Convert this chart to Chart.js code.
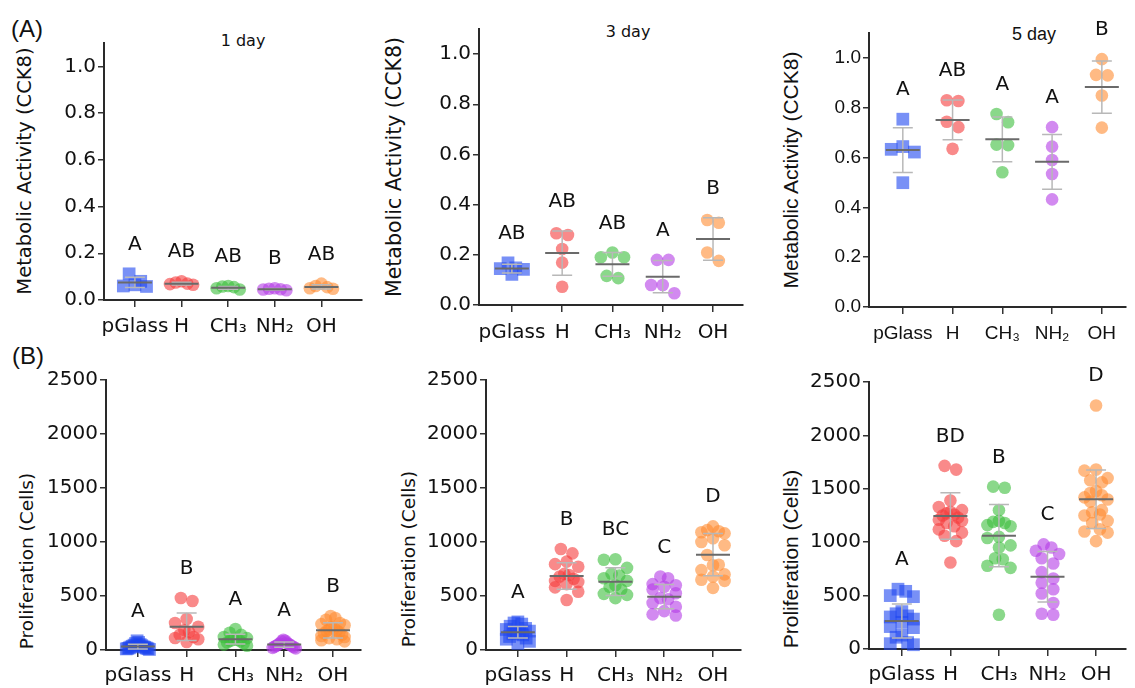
<!DOCTYPE html>
<html>
<head>
<meta charset="utf-8">
<script src="https://cdn.jsdelivr.net/npm/chart.js@4.4.1/dist/chart.umd.min.js"></script>
<style>
body { margin: 0; background: #fff; width: 1135px; height: 688px; overflow: hidden; position: relative; color: #111; font-family: "DejaVu Sans", sans-serif; }
canvas { position: absolute; }
.lbl { position: absolute; white-space: nowrap; line-height: 1; }
.ttl { position: absolute; white-space: nowrap; line-height: 1; transform: translateX(-50%); }
.ytitle { position: absolute; white-space: nowrap; line-height: 1; transform: translate(-50%, -50%) rotate(-90deg); }
</style>
</head>
<body>
<div class="lbl" style="left:11px;top:15px;font:24px 'Liberation Sans'">(A)</div>
<div class="lbl" style="left:12px;top:342px;font:24px 'Liberation Sans'">(B)</div>

<div class="ttl" style="left:243px;top:33px;font-size:16px">1 day</div>
<div class="ttl" style="left:628px;top:24px;font-size:16px">3 day</div>
<div class="ttl" style="left:1034px;top:24px;font:18px 'Liberation Sans'">5 day</div>

<div class="ytitle" style="left:25px;top:171px;font-size:19.5px">Metabolic Activity (CCK8)</div>
<div class="ytitle" style="left:394px;top:167px;font-size:20.5px">Metabolic Activity (CCK8)</div>
<div class="ytitle" style="left:791px;top:170px;font:21px 'Liberation Sans'">Metabolic Activity (CCK8)</div>
<div class="ytitle" style="left:27px;top:561px;font-size:18.5px">Proliferation (Cells)</div>
<div class="ytitle" style="left:409px;top:559px;font-size:18.5px">Proliferation (Cells)</div>
<div class="ytitle" style="left:791px;top:559px;font:21px 'Liberation Sans'">Proliferation (Cells)</div>

<script>
// categories and tick labels
const groups = ['pGlass', 'H', 'CH₃', 'NH₂', 'OH'];
const cck8Ticks = [0, 0.2, 0.4, 0.6, 0.8, 1.0];
const cellTicks = [0, 500, 1000, 1500, 2000, 2500];

// (A) metabolic activity, one list of replicates per group
const cck8Day1 = [
    [0.112, 0.08, 0.065, 0.06, 0.058],
    [0.08, 0.075, 0.07, 0.068, 0.065],
    [0.06, 0.058, 0.055, 0.05, 0.045],
    [0.05, 0.048, 0.046, 0.045, 0.042],
    [0.07, 0.06, 0.055, 0.05, 0.048]
];
const cck8Day1Mean = [0.075, 0.07, 0.052, 0.046, 0.056];
const cck8Day1Sd = [0.022, 0.006, 0.006, 0.003, 0.009];
const cck8Day1Letters = ['A', 'AB', 'AB', 'B', 'AB'];

const cck8Day3 = [
    [0.168, 0.148, 0.145, 0.142, 0.122],
    [0.286, 0.279, 0.223, 0.169, 0.073],
    [0.209, 0.19, 0.19, 0.116, 0.107],
    [0.18, 0.18, 0.08, 0.08, 0.047],
    [0.339, 0.328, 0.209, 0.176]
];
const cck8Day3Mean = [0.145, 0.207, 0.162, 0.113, 0.263];
const cck8Day3Sd = [0.017, 0.088, 0.047, 0.064, 0.085];
const cck8Day3Letters = ['AB', 'AB', 'AB', 'A', 'B'];

const cck8Day5 = [
    [0.754, 0.644, 0.633, 0.622, 0.499],
    [0.83, 0.827, 0.744, 0.722, 0.635],
    [0.775, 0.742, 0.652, 0.65, 0.541],
    [0.722, 0.644, 0.59, 0.534, 0.432],
    [0.995, 0.932, 0.93, 0.849, 0.72]
];
const cck8Day5Mean = [0.63, 0.751, 0.673, 0.583, 0.883];
const cck8Day5Sd = [0.09, 0.08, 0.09, 0.11, 0.105];
const cck8Day5Letters = ['A', 'AB', 'A', 'A', 'B'];

// (B) proliferation, cell counts
const cellsDay1 = [
    [85, 70, 60, 50, 45, 40, 35, 30, 28, 25, 20, 18, 15, 12, 10, 5],
    [481, 454, 287, 250, 215, 185, 167, 140, 120, 111, 100, 74],
    [195, 160, 140, 120, 110, 100, 95, 85, 80, 70, 60, 50, 40],
    [95, 85, 80, 70, 60, 55, 50, 45, 40, 35, 30, 25, 20, 15],
    [315, 296, 280, 250, 240, 230, 210, 200, 190, 180, 175, 165, 155, 140, 130, 120, 110, 100, 90, 80]
];
const cellsDay1Mean = [32, 215, 100, 50, 182];
const cellsDay1Sd = [22, 128, 45, 25, 70];
const cellsDay1Letters = ['A', 'B', 'A', 'A', 'B'];

const cellsDay3 = [
    [260, 250, 240, 220, 200, 190, 175, 165, 160, 150, 140, 125, 110, 100, 80, 60],
    [935, 895, 818, 795, 771, 705, 695, 680, 660, 640, 630, 610, 580, 540, 463],
    [840, 835, 760, 705, 690, 665, 640, 600, 585, 560, 520, 510, 480],
    [680, 665, 610, 600, 585, 560, 525, 480, 470, 435, 400, 360, 330, 320],
    [1145, 1110, 1100, 1090, 1080, 1035, 1000, 970, 880, 790, 785, 740, 700, 680, 650, 640, 575]
];
const cellsDay3Mean = [164, 685, 633, 494, 883];
const cellsDay3Sd = [54, 123, 128, 112, 196];
const cellsDay3Letters = ['A', 'B', 'BC', 'C', 'D'];

const cellsDay5 = [
    [560, 540, 500, 490, 350, 330, 310, 300, 280, 250, 210, 200, 130, 110, 60, 50, 40],
    [1715, 1680, 1390, 1330, 1300, 1285, 1270, 1260, 1250, 1230, 1210, 1200, 1180, 1150, 1120, 1090, 1060, 1010, 810],
    [1520, 1510, 1300, 1200, 1190, 1180, 1160, 1150, 1050, 1040, 970, 950, 850, 840, 780, 760, 320],
    [980, 950, 920, 890, 850, 800, 720, 660, 620, 560, 520, 430, 330, 320],
    [2280, 1680, 1670, 1600, 1580, 1560, 1480, 1460, 1440, 1420, 1400, 1380, 1300, 1280, 1260, 1250, 1200, 1180, 1120, 1100, 1090, 1010]
];
const cellsDay5Mean = [262, 1245, 1061, 677, 1402];
const cellsDay5Sd = [160, 218, 292, 237, 273];
const cellsDay5Letters = ['A', 'BD', 'B', 'C', 'D'];

const colors = ['rgba(30,70,240,0.6)', 'rgba(245,60,60,0.6)', 'rgba(60,190,60,0.6)', 'rgba(180,60,230,0.6)', 'rgba(255,140,50,0.6)'];

// layout: plot box [left, right, top, bottom] and pixel of first/last category
const dv = '"DejaVu Sans"', lib = '"Liberation Sans"';
const panels = [
    { vals: cck8Day1, mean: cck8Day1Mean, sd: cck8Day1Sd, letters: cck8Day1Letters, ticks: cck8Ticks, ymax: 1.1, box: [104, 371, 43, 300], cat: [136, 329], fam: dv, size: 20, pad: 8 },
    { vals: cck8Day3, mean: cck8Day3Mean, sd: cck8Day3Sd, letters: cck8Day3Letters, ticks: cck8Ticks, ymax: 1.1, box: [479, 752, 29, 305], cat: [513, 721], fam: dv, size: 20, pad: 9 },
    { vals: cck8Day5, mean: cck8Day5Mean, sd: cck8Day5Sd, letters: cck8Day5Letters, ticks: cck8Ticks, ymax: 1.1, box: [869, 1135, 33, 307], cat: [904, 1110], fam: lib, size: 19, pad: 8 },
    { vals: cellsDay1, mean: cellsDay1Mean, sd: cellsDay1Sd, letters: cellsDay1Letters, ticks: cellTicks, ymax: 2500, box: [106, 370, 380, 650], cat: [139, 341], fam: dv, size: 20, pad: 7 },
    { vals: cellsDay3, mean: cellsDay3Mean, sd: cellsDay3Sd, letters: cellsDay3Letters, ticks: cellTicks, ymax: 2500, box: [486, 750, 380, 650], cat: [519, 721], fam: dv, size: 20, pad: 7 },
    { vals: cellsDay5, mean: cellsDay5Mean, sd: cellsDay5Sd, letters: cellsDay5Letters, ticks: cellTicks, ymax: 2500, box: [869, 1135, 382, 649], cat: [903, 1104], fam: dv, size: 20, pad: 7 }
];

const Y_W = 80, X_H = 45, PAD_T = 40;
const BIN_PX = 10, DOT_GAP = 12, MAX_HALF = 12;

// Prism-like scatter: rows of nearby values are spread sideways around the centre
function swarm(vals, pxPerUnit) {
    const order = vals.map((v, i) => i).sort((a, b) => vals[b] - vals[a]);
    const off = new Array(vals.length).fill(0);
    let k = 0;
    while (k < order.length) {
        const bin = [order[k]];
        const top = vals[order[k]];
        k++;
        while (k < order.length && (top - vals[order[k]]) * pxPerUnit < BIN_PX) {
            bin.push(order[k]);
            k++;
        }
        const n = bin.length;
        const gap = n > 1 ? Math.min(DOT_GAP, 2 * MAX_HALF / (n - 1)) : 0;
        const slots = [];
        for (let s = 0; s < n; s++) slots.push((s - (n - 1) / 2) * gap);
        slots.sort((a, b) => Math.abs(a) - Math.abs(b) || a - b);
        bin.forEach((idx, j) => { off[idx] = slots[j]; });
    }
    return off;
}

// mean line, SD whiskers and the letters above each group
function statsPlugin(p) {
    return {
        id: 'stats',
        afterDatasetsDraw(chart) {
            const ctx = chart.ctx;
            const x = chart.scales.x, y = chart.scales.y;
            ctx.save();
            p.mean.forEach((m, i) => {
                const cx = x.getPixelForValue(i);
                const yt = y.getPixelForValue(m + p.sd[i]);
                const yb = y.getPixelForValue(Math.max(0, m - p.sd[i]));
                ctx.strokeStyle = '#b8b8b8';
                ctx.lineWidth = 1.5;
                ctx.beginPath();
                ctx.moveTo(cx, yt); ctx.lineTo(cx, yb);
                ctx.moveTo(cx - 10, yt); ctx.lineTo(cx + 10, yt);
                ctx.moveTo(cx - 10, yb); ctx.lineTo(cx + 10, yb);
                ctx.stroke();
                const ym = y.getPixelForValue(m);
                ctx.strokeStyle = '#6a6a6a';
                ctx.lineWidth = 2;
                ctx.beginPath();
                ctx.moveTo(cx - 17, ym); ctx.lineTo(cx + 17, ym);
                ctx.stroke();

                const top = Math.max(...p.vals[i], m + p.sd[i]);
                ctx.fillStyle = '#111';
                ctx.font = '20px "DejaVu Sans"';
                ctx.textAlign = 'center';
                ctx.textBaseline = 'alphabetic';
                ctx.fillText(p.letters[i], cx, y.getPixelForValue(top) - 6 - 18);
            });
            ctx.restore();
        }
    };
}

panels.forEach(p => {
    const [l, r, t, b] = p.box;
    const W = r - l + Y_W, H = b - t + PAD_T + X_H;
    const cv = document.createElement('canvas');
    cv.width = W; cv.height = H;
    cv.style.left = (l - Y_W) + 'px';
    cv.style.top = (t - PAD_T) + 'px';
    cv.style.width = W + 'px';
    cv.style.height = H + 'px';
    document.body.appendChild(cv);

    const slot = (p.cat[1] - p.cat[0]) / 4;
    const xmin = -(p.cat[0] - l) / slot;
    const xmax = 4 + (r - p.cat[1]) / slot;
    const ppu = (b - t) / p.ymax;

    const datasets = p.vals.map((vs, gi) => {
        const off = swarm(vs, ppu);
        return {
            data: vs.map((v, i) => ({ x: gi + off[i] / slot, y: v })),
            pointStyle: gi === 0 ? 'rect' : 'circle',
            pointRadius: gi === 0 ? 9 : 6.3,
            pointBackgroundColor: colors[gi],
            pointBorderWidth: 0,
            clip: false
        };
    });

    const tickFont = { family: p.fam, size: p.size };
    new Chart(cv, {
        type: 'scatter',
        data: { datasets },
        options: {
            responsive: false,
            animation: false,
            events: [],
            layout: { padding: { top: PAD_T, left: 0, right: 0, bottom: 0 } },
            plugins: { legend: { display: false }, tooltip: { enabled: false } },
            scales: {
                x: {
                    type: 'linear',
                    min: xmin,
                    max: xmax,
                    afterBuildTicks: ax => { ax.ticks = groups.map((g, i) => ({ value: i })); },
                    afterFit: ax => { ax.height = X_H; ax.paddingLeft = 0; ax.paddingRight = 0; },
                    ticks: { callback: (v, i) => groups[i], font: tickFont, color: '#111', padding: p.pad, autoSkip: false, maxRotation: 0 },
                    grid: { drawOnChartArea: false, drawTicks: true, tickLength: 7, color: '#333', lineWidth: 1.5 },
                    border: { display: true, color: '#2a2a2a', width: 2 }
                },
                y: {
                    min: 0,
                    max: p.ymax,
                    afterBuildTicks: ax => { ax.ticks = p.ticks.map(v => ({ value: v })); },
                    afterFit: ax => { ax.width = Y_W; ax.paddingTop = 0; ax.paddingBottom = 0; },
                    ticks: { callback: v => p.ymax > 2 ? v : v.toFixed(1), font: tickFont, color: '#111', padding: 2 },
                    grid: { drawOnChartArea: false, drawTicks: true, tickLength: 6, color: '#333', lineWidth: 1.5 },
                    border: { display: true, color: '#2a2a2a', width: 2 }
                }
            }
        },
        plugins: [statsPlugin(p)]
    });
});
</script>
</body>
</html>
